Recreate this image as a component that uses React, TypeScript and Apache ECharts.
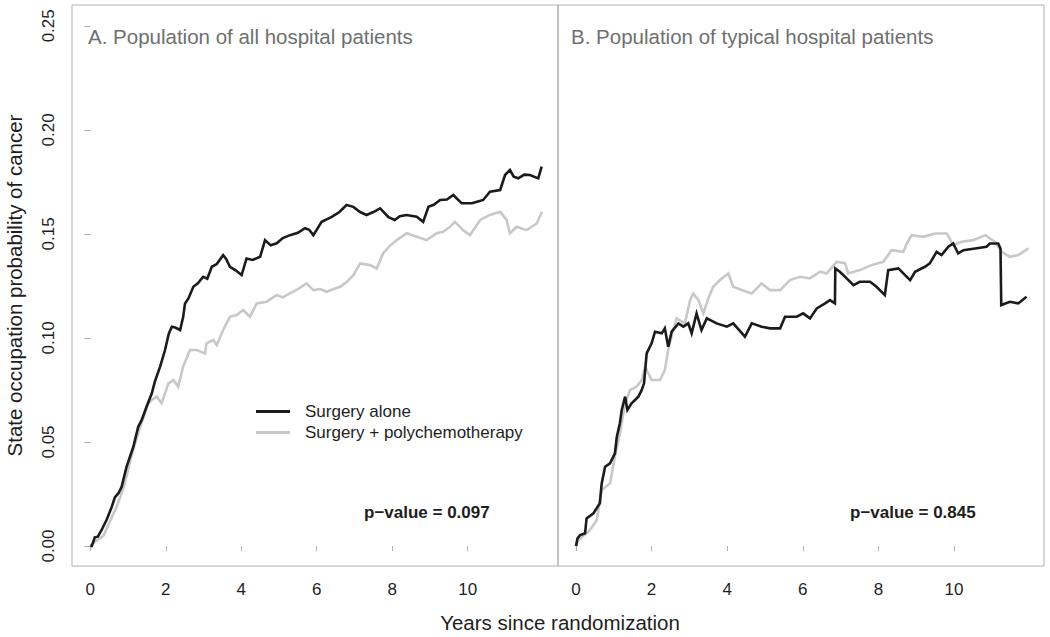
import React, { useEffect, useRef } from "react";
import * as echarts from "echarts";

const FONT = "'Liberation Sans', Arial, Helvetica, sans-serif";

const seriesNames = ["Surgery alone", "Surgery + polychemotherapy"];
const panelTitles = [
  "A. Population of all hospital patients",
  "B. Population of typical hospital patients",
];
const pValueLabels = ["p\u2212value = 0.097", "p\u2212value = 0.845"];
const xAxisTitle = "Years since randomization";
const yAxisTitle = "State occupation probability of cancer";

const xTicks = [0, 2, 4, 6, 8, 10];
const yTicks = [0, 0.05, 0.1, 0.15, 0.2, 0.25];

// Panel A: all hospital patients
const allAlone: [number, number][] = [
  [0, 0], [0.04, 0.0], [0.12, 0.0042], [0.2, 0.0045], [0.3, 0.0077], [0.43, 0.0125], [0.57, 0.0189],
  [0.65, 0.0234], [0.75, 0.0255], [0.83, 0.0285], [0.96, 0.0381], [1.14, 0.0477], [1.27, 0.0573],
  [1.36, 0.0605], [1.49, 0.0669], [1.63, 0.0734], [1.71, 0.079], [1.85, 0.0862],
  [1.98, 0.0942], [2.08, 0.102], [2.16, 0.1054], [2.25, 0.105], [2.38, 0.1038],
  [2.46, 0.11], [2.51, 0.1166], [2.6, 0.119], [2.73, 0.1246], [2.85, 0.1262], [2.99, 0.1294],
  [3.1, 0.1285], [3.22, 0.1342], [3.35, 0.1355], [3.52, 0.1398], [3.6, 0.138], [3.7, 0.1342],
  [3.85, 0.1325], [4.01, 0.1302], [4.14, 0.1382], [4.3, 0.1375], [4.5, 0.139], [4.63, 0.147],
  [4.78, 0.1445], [4.94, 0.1455], [5.1, 0.148], [5.29, 0.1494], [5.5, 0.1505], [5.69, 0.1527],
  [5.8, 0.152], [5.91, 0.1494], [6.13, 0.1558], [6.4, 0.1582], [6.6, 0.1605], [6.79, 0.1639], [6.97, 0.163],
  [7.15, 0.1605], [7.32, 0.1591], [7.5, 0.1605], [7.68, 0.1623], [7.9, 0.158], [8.07, 0.1567], [8.2, 0.1585], [8.38, 0.1591], [8.65, 0.1582],
  [8.82, 0.1558], [8.96, 0.163], [9.1, 0.164], [9.27, 0.1663], [9.45, 0.1665], [9.62, 0.1687], [9.84, 0.1647],
  [10.11, 0.1647], [10.25, 0.1655], [10.41, 0.1663], [10.59, 0.1703], [10.86, 0.1711], [10.99, 0.1783],
  [11.12, 0.1807], [11.22, 0.1775], [11.34, 0.1767], [11.5, 0.1785], [11.65, 0.1783], [11.87, 0.1767], [11.96, 0.1823],
];
const allPoly: [number, number][] = [
  [0, 0], [0.05, 0.001], [0.2, 0.003], [0.35, 0.005], [0.5, 0.011], [0.7, 0.019],
  [0.9, 0.029], [1.1, 0.044], [1.3, 0.056], [1.45, 0.064], [1.54, 0.0686], [1.63, 0.0702],
  [1.76, 0.0718], [1.89, 0.0686], [2.07, 0.0782], [2.2, 0.0798], [2.33, 0.0766],
  [2.46, 0.0862], [2.64, 0.0942], [2.82, 0.0942], [3.04, 0.0926], [3.08, 0.0974],
  [3.26, 0.099], [3.35, 0.0966], [3.52, 0.1038], [3.7, 0.1102], [3.88, 0.111],
  [4.05, 0.1134], [4.23, 0.1102], [4.41, 0.1166], [4.67, 0.1174], [4.8, 0.119], [4.94, 0.1206],
  [5.1, 0.1195], [5.29, 0.1214], [5.5, 0.1235], [5.73, 0.1262], [5.91, 0.123], [6.1, 0.1235], [6.26, 0.1222], [6.45, 0.1235], [6.62, 0.1246],
  [6.8, 0.127], [6.97, 0.1302], [7.15, 0.1358], [7.41, 0.135], [7.59, 0.1334], [7.76, 0.1407],
  [7.95, 0.1445], [8.12, 0.147], [8.38, 0.1503], [8.65, 0.1486], [8.91, 0.147], [9.18, 0.1503],
  [9.35, 0.151], [9.53, 0.1534], [9.66, 0.1558], [9.88, 0.1518], [10.06, 0.1494], [10.33, 0.1567],
  [10.59, 0.1591], [10.86, 0.1606], [11.03, 0.1567], [11.12, 0.1503], [11.3, 0.1534],
  [11.56, 0.1518], [11.83, 0.155], [11.97, 0.1606],
];

// Panel B: typical hospital patients
const typAlone: [number, number][] = [
  [0, 0], [0.04, 0.0037], [0.11, 0.0053], [0.24, 0.0061], [0.28, 0.0133], [0.46, 0.0157],
  [0.63, 0.0205], [0.68, 0.0301], [0.77, 0.0381], [0.9, 0.0397], [1.03, 0.0445],
  [1.08, 0.0525], [1.16, 0.0589], [1.21, 0.0654], [1.3, 0.0718], [1.36, 0.0654],
  [1.47, 0.0686], [1.65, 0.0718], [1.74, 0.075], [1.8, 0.0782], [1.87, 0.0926],
  [2.0, 0.0974], [2.09, 0.103], [2.27, 0.1022], [2.35, 0.1046], [2.44, 0.0958],
  [2.53, 0.103], [2.71, 0.107], [2.84, 0.1054], [2.97, 0.107], [3.06, 0.1022],
  [3.19, 0.1118], [3.32, 0.1038], [3.46, 0.1094], [3.72, 0.107], [3.99, 0.1054],
  [4.16, 0.107], [4.47, 0.1006], [4.65, 0.107], [4.91, 0.1054], [5.13, 0.1046],
  [5.4, 0.1046], [5.53, 0.1102], [5.84, 0.1102], [6.01, 0.1118], [6.19, 0.1094],
  [6.37, 0.1142], [6.59, 0.1166], [6.72, 0.1182], [6.85, 0.1166], [6.86, 0.1334],
  [6.98, 0.1318], [7.16, 0.1286], [7.34, 0.1254], [7.51, 0.127], [7.78, 0.127],
  [7.95, 0.1246], [8.17, 0.1206], [8.26, 0.1326], [8.53, 0.1334], [8.66, 0.131],
  [8.84, 0.1278], [8.97, 0.1318], [9.23, 0.1342], [9.36, 0.1358], [9.54, 0.1414],
  [9.67, 0.1398], [9.85, 0.1438], [9.98, 0.1454], [10.11, 0.1406], [10.25, 0.1422],
  [10.56, 0.143], [10.86, 0.1438], [10.95, 0.1454], [11.17, 0.1454], [11.23, 0.143],
  [11.25, 0.1158], [11.48, 0.1174], [11.7, 0.1166], [11.92, 0.1198],
];
const typPoly: [number, number][] = [
  [0, 0], [0.06, 0.0029], [0.37, 0.0077], [0.55, 0.0125], [0.68, 0.0269], [0.9, 0.0301],
  [1.03, 0.0429], [1.16, 0.0541], [1.3, 0.0686], [1.43, 0.075], [1.6, 0.0766],
  [1.74, 0.0798], [1.83, 0.0862], [2.0, 0.0798], [2.22, 0.0798], [2.35, 0.0846],
  [2.44, 0.0942], [2.57, 0.1038], [2.66, 0.1094], [2.88, 0.107], [3.02, 0.1182],
  [3.1, 0.1214], [3.24, 0.1182], [3.37, 0.1118], [3.5, 0.119], [3.63, 0.1246],
  [3.81, 0.1278], [4.03, 0.131], [4.16, 0.1246], [4.38, 0.123], [4.65, 0.1214],
  [4.91, 0.1262], [5.13, 0.123], [5.4, 0.123], [5.66, 0.1278], [5.93, 0.1294],
  [6.19, 0.1286], [6.46, 0.1318], [6.63, 0.131], [6.9, 0.1366], [7.12, 0.1358],
  [7.2, 0.131], [7.51, 0.1326], [7.82, 0.135], [8.13, 0.1366], [8.35, 0.1422],
  [8.66, 0.1414], [8.75, 0.1454], [8.88, 0.1494], [9.19, 0.1486], [9.5, 0.1502],
  [9.81, 0.1502], [9.98, 0.1446], [10.2, 0.1462], [10.51, 0.147], [10.83, 0.1494],
  [11.08, 0.1462], [11.26, 0.1414], [11.48, 0.139], [11.7, 0.1398], [11.97, 0.143],
];

const BLACK = "#1b1b1b";
const GREY = "#c8c8c8";
const FRAME = "#b0b0b0";
const TEXT = "#1e1e1e";

export default function App() {
  const ref = useRef<HTMLDivElement>(null);

  useEffect(() => {
    document.body.style.margin = "0";
    if (!ref.current) return;
    const chart = echarts.init(ref.current, null, { renderer: "svg" });

    const grids = [
      { left: 72, top: 5, width: 486, height: 561 },
      { left: 558, top: 5, width: 486, height: 561 },
    ];
    const xRanges = [
      [-0.485, 12.393],
      [-0.476, 12.381],
    ];
    const yMin = -0.0096;
    const yMax = 0.26;

    const mkX = (i: number) => ({
      type: "value",
      gridIndex: i,
      min: xRanges[i][0],
      max: xRanges[i][1],
      axisLine: { show: false },
      splitLine: { show: false },
      axisTick: {
        show: true,
        customValues: xTicks,
        length: 5,
        lineStyle: { color: FRAME, width: 1 },
      },
      axisLabel: {
        customValues: xTicks,
        margin: 15,
        fontSize: 17,
        color: TEXT,
        fontFamily: FONT,
      },
    });

    const lineSeries = (
      name: string,
      data: [number, number][],
      color: string,
      idx: number
    ) => ({
      type: "line",
      name,
      data,
      xAxisIndex: idx,
      yAxisIndex: idx,
      symbol: "none",
      showSymbol: false,
      silent: true,
      lineStyle: { color, width: 2.6, join: "miter" },
      itemStyle: { color },
    });

    chart.setOption({
      animation: false,
      grid: grids.map((g) => ({
        ...g,
        show: true,
        borderColor: FRAME,
        borderWidth: 1,
        backgroundColor: "transparent",
        containLabel: false,
      })),
      xAxis: [mkX(0), mkX(1)],
      yAxis: [
        {
          type: "value",
          gridIndex: 0,
          min: yMin,
          max: yMax,
          axisLine: { show: false },
          splitLine: { show: false },
          axisTick: {
            show: true,
            customValues: yTicks,
            length: 6,
            lineStyle: { color: FRAME, width: 1 },
          },
          axisLabel: {
            customValues: yTicks,
            rotate: 90,
            margin: 15,
            fontSize: 17,
            color: TEXT,
            fontFamily: FONT,
            formatter: (v: number) => v.toFixed(2),
          },
          name: yAxisTitle,
          nameLocation: "middle",
          nameRotate: 90,
          nameGap: 47,
          nameTextStyle: { fontSize: 20.5, color: TEXT, fontFamily: FONT },
        },
        {
          type: "value",
          gridIndex: 1,
          min: yMin,
          max: yMax,
          show: false,
        },
      ],
      legend: {
        left: 256,
        top: 401,
        padding: 0,
        orient: "vertical",
        icon: "rect",
        itemWidth: 34,
        itemHeight: 3,
        itemGap: 0,
        selectedMode: false,
        data: seriesNames,
        textStyle: {
          fontSize: 17,
          lineHeight: 21,
          color: TEXT,
          fontFamily: FONT,
          padding: [0, 0, 0, 10],
        },
      },
      series: [
        lineSeries(seriesNames[1], allPoly, GREY, 0),
        lineSeries(seriesNames[0], allAlone, BLACK, 0),
        lineSeries(seriesNames[1], typPoly, GREY, 1),
        lineSeries(seriesNames[0], typAlone, BLACK, 1),
      ],
      graphic: [
        {
          type: "text",
          left: 88,
          top: 26,
          style: {
            text: panelTitles[0],
            fontSize: 20.5,
            fill: "#6f6f6f",
            fontFamily: FONT,
          },
        },
        {
          type: "text",
          left: 571,
          top: 26,
          style: {
            text: panelTitles[1],
            fontSize: 20.5,
            fill: "#6f6f6f",
            fontFamily: FONT,
          },
        },
        {
          type: "text",
          left: 364,
          top: 504,
          style: {
            text: pValueLabels[0],
            fontSize: 17,
            fontWeight: "bold",
            fill: TEXT,
            fontFamily: FONT,
          },
        },
        {
          type: "text",
          left: 850,
          top: 504,
          style: {
            text: pValueLabels[1],
            fontSize: 17,
            fontWeight: "bold",
            fill: TEXT,
            fontFamily: FONT,
          },
        },
        {
          type: "text",
          x: 560,
          y: 622,
          style: {
            text: xAxisTitle,
            fontSize: 20.5,
            fill: TEXT,
            fontFamily: FONT,
            textAlign: "center",
            textVerticalAlign: "middle",
          },
        },
      ],
    });

    return () => chart.dispose();
  }, []);

  return <div ref={ref} style={{ width: 1050, height: 637 }} />;
}
